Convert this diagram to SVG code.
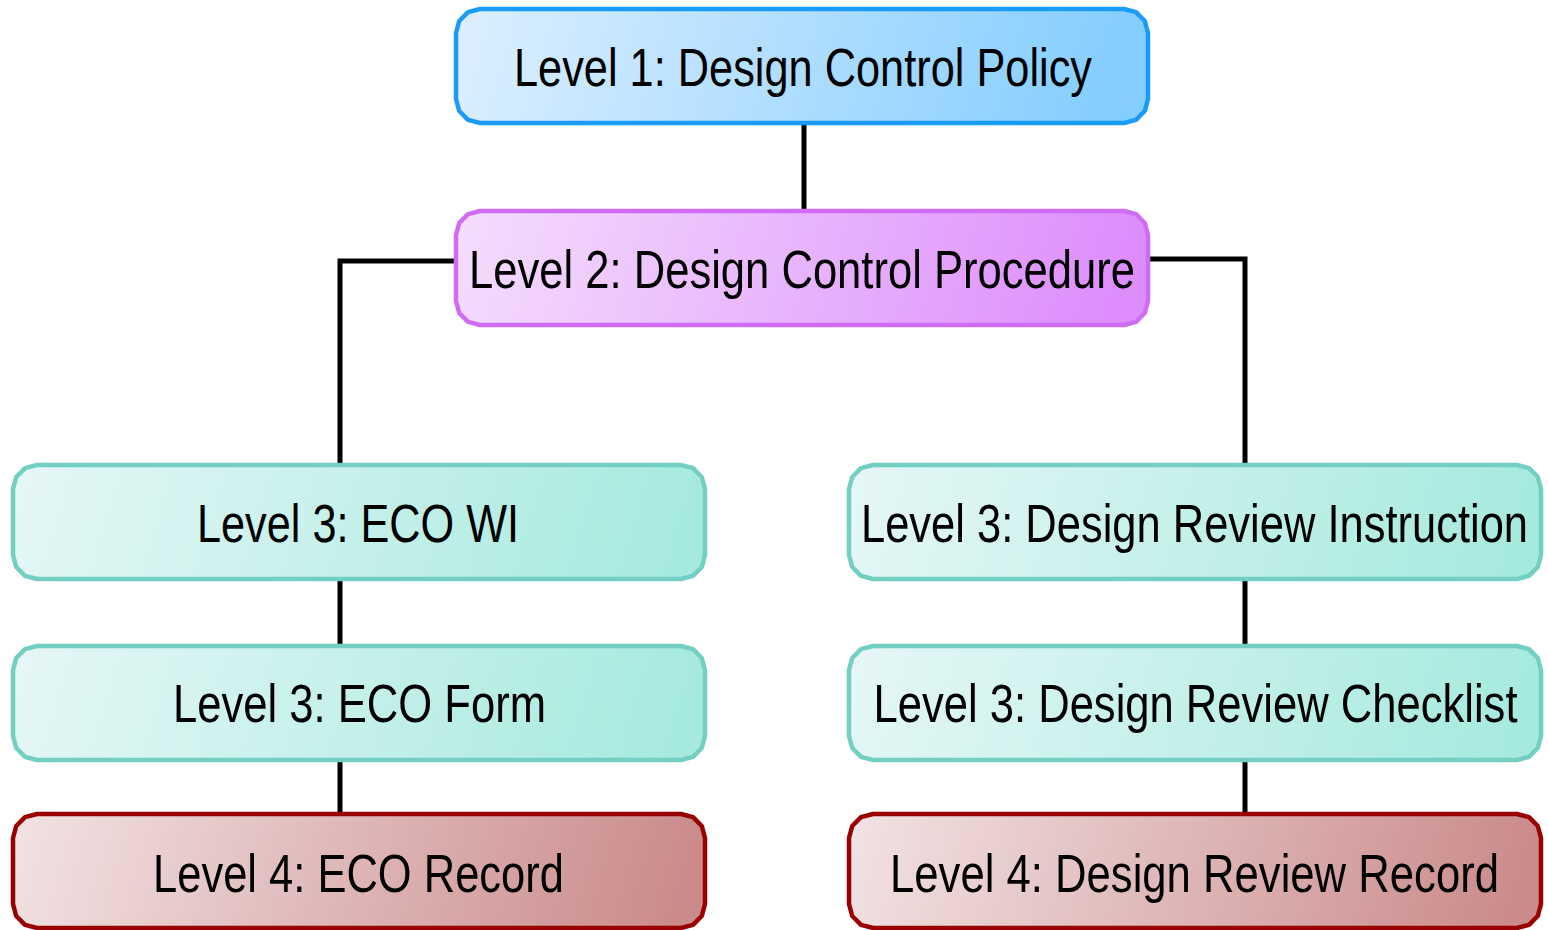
<svg xmlns="http://www.w3.org/2000/svg" width="1548" height="930" viewBox="0 0 1548 930">
  <style>
    .edge { fill: none; stroke: #000; stroke-width: 5; }
    .box { stroke-width: 4.5; stroke-linejoin: round; }
    .l1 { fill: url(#gL1); stroke: #1a9cf6; }
    .l2 { fill: url(#gL2); stroke: #d06cf4; }
    .l3 { fill: url(#gL3); stroke: #72cfc1; }
    .l4 { fill: url(#gL4); stroke: #990000; }
    .label { font-family: "Liberation Sans", Arial, sans-serif; font-size: 53px; fill: #000; text-anchor: middle; }
  </style>
  <defs>
    <!-- node outline: rounded corners built from short facets -->
    <path id="box" d="M0,24 L3.2,12 L12,3.2 L24,0 H668 L680,3.2 L688.8,12 L692,24 V90 L688.8,102 L680,110.8 L668,114 H24 L12,110.8 L3.2,102 L0,90 Z"/>
    <linearGradient id="gL1" x1="0" y1="0" x2="1" y2="0.05">
      <stop offset="0" stop-color="#ddefff"/>
      <stop offset="1" stop-color="#83cdff"/>
    </linearGradient>
    <linearGradient id="gL2" x1="0" y1="0" x2="1" y2="0.05">
      <stop offset="0" stop-color="#f4defd"/>
      <stop offset="1" stop-color="#dd8dfc"/>
    </linearGradient>
    <linearGradient id="gL3" x1="0" y1="0" x2="1" y2="0.05">
      <stop offset="0" stop-color="#e6f7f6"/>
      <stop offset="1" stop-color="#a6eadf"/>
    </linearGradient>
    <linearGradient id="gL4" x1="0" y1="0" x2="1" y2="0.05">
      <stop offset="0" stop-color="#f2e3e4"/>
      <stop offset="1" stop-color="#cb8b8b"/>
    </linearGradient>
  </defs>

  <g id="connectors">
    <path class="edge" d="M804,123 V211"/>
    <path class="edge" d="M456,261 H340 V465"/>
    <path class="edge" d="M1148,259 H1245 V465"/>
    <path class="edge" d="M340,579 V646"/>
    <path class="edge" d="M340,760 V814"/>
    <path class="edge" d="M1245,579 V646"/>
    <path class="edge" d="M1245,760 V814"/>
  </g>

  <g id="policy">
    <use href="#box" class="box l1" transform="translate(456,9)"/>
    <text class="label" x="803" y="86" textLength="578" lengthAdjust="spacingAndGlyphs">Level 1: Design Control Policy</text>
  </g>

  <g id="procedure">
    <use href="#box" class="box l2" transform="translate(456,211)"/>
    <text class="label" x="802" y="288" textLength="666" lengthAdjust="spacingAndGlyphs">Level 2: Design Control Procedure</text>
  </g>

  <g id="eco-wi">
    <use href="#box" class="box l3" transform="translate(13,465)"/>
    <text class="label" x="358" y="542" textLength="322" lengthAdjust="spacingAndGlyphs">Level 3: ECO WI</text>
  </g>

  <g id="eco-form">
    <use href="#box" class="box l3" transform="translate(13,646)"/>
    <text class="label" x="359.5" y="722" textLength="373" lengthAdjust="spacingAndGlyphs">Level 3: ECO Form</text>
  </g>

  <g id="eco-record">
    <use href="#box" class="box l4" transform="translate(13,814)"/>
    <text class="label" x="358.5" y="892" textLength="411" lengthAdjust="spacingAndGlyphs">Level 4: ECO Record</text>
  </g>

  <g id="review-instruction">
    <use href="#box" class="box l3" transform="translate(849,465)"/>
    <text class="label" x="1194.5" y="542" textLength="667" lengthAdjust="spacingAndGlyphs">Level 3: Design Review Instruction</text>
  </g>

  <g id="review-checklist">
    <use href="#box" class="box l3" transform="translate(849,646)"/>
    <text class="label" x="1195.5" y="722" textLength="644" lengthAdjust="spacingAndGlyphs">Level 3: Design Review Checklist</text>
  </g>

  <g id="review-record">
    <use href="#box" class="box l4" transform="translate(849,814)"/>
    <text class="label" x="1194.5" y="892" textLength="609" lengthAdjust="spacingAndGlyphs">Level 4: Design Review Record</text>
  </g>
</svg>
